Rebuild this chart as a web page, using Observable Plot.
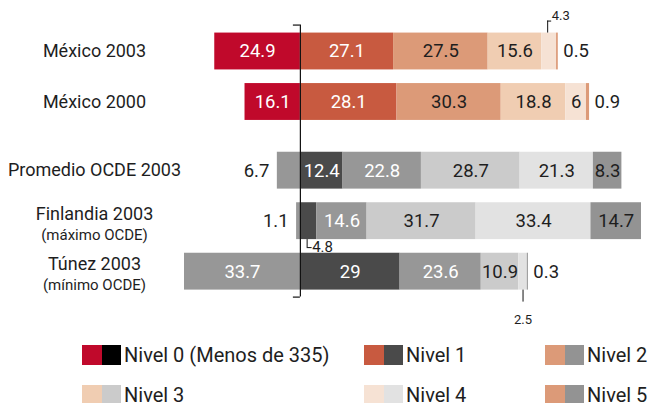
<!DOCTYPE html>
<html><head><meta charset="utf-8">
<script src="https://cdn.jsdelivr.net/npm/d3@7"></script>
<script src="https://cdn.jsdelivr.net/npm/@observablehq/plot@0.6"></script>
<style>
body{margin:0;background:#fff;font-family:Roboto,sans-serif;color:#1e1e1e;overflow:hidden;}
#chart{width:652px;height:330px;}
.legend{display:grid;grid-template-columns:282px 181px 107px;padding-left:82px;row-gap:20px;margin-top:15px;}
.item{display:flex;align-items:center;height:20px;font-size:20px;white-space:nowrap;}
.sw{width:19.5px;height:20px;flex:none;}
.t{margin-left:3px;}
</style></head><body>
<div id="chart"></div>
<div class="legend" id="legend"></div>
<script>
// ---- data ----
const paises = ["México 2003", "México 2000", "Promedio OCDE 2003", "Finlandia 2003", "Túnez 2003"];
const subtitulos = ["", "", "", "(máximo OCDE)", "(mínimo OCDE)"];
const grupos = ["México", "México", "OCDE", "OCDE", "OCDE"];
const niveles = ["Nivel 0 (Menos de 335)", "Nivel 1", "Nivel 2", "Nivel 3", "Nivel 4", "Nivel 5"];
const nivel0 = [24.9, 16.1, 6.7, 1.1, 33.7];
const nivel1 = [27.1, 28.1, 12.4, 4.8, 29];
const nivel2 = [27.5, 30.3, 22.8, 14.6, 23.6];
const nivel3 = [15.6, 18.8, 28.7, 31.7, 10.9];
const nivel4 = [4.3, 6, 21.3, 33.4, 2.5];
const nivel5 = [0.5, 0.9, 8.3, 14.7, 0.3];
// callouts for very thin segments
const llamadas = [
  {pais: "México 2003", nivel: 4, estilo: "arriba"},
  {pais: "Finlandia 2003", nivel: 1, estilo: "codo"},
  {pais: "Túnez 2003", nivel: 4, estilo: "abajo"}
];

// ---- styles ----
const coloresMexico = ["#c0092b", "#c85a40", "#dc9a78", "#f0cdb2", "#f6e2d4", "#dc9a78"];
const coloresOCDE = ["#979797", "#4a4a4a", "#979797", "#cbcbcb", "#e2e2e2", "#939393"];
const leyendaGris = ["#000000", "#4a4a4a", "#939393", "#cbcbcb", "#e2e2e2", "#939393"];
const textoMexico = ["#fff", "#fff", "#1e1e1e", "#1e1e1e", "#1e1e1e", "#1e1e1e"];
const textoOCDE = ["#fff", "#fff", "#fff", "#1e1e1e", "#1e1e1e", "#1e1e1e"];
const valores = [nivel0, nivel1, nivel2, nivel3, nivel4, nivel5];

const W = 652, H = 330, mL = 184, mR = 11;
const ordenGrupos = [...new Set(grupos)];
const filas = paises.map((p, i) => ({
  pais: p, sub: subtitulos[i], i,
  slot: i + ordenGrupos.indexOf(grupos[i]) * 0.36
}));
const h = 0.365;

const segs = [];
filas.forEach(f => {
  let acc = 0;
  const mex = grupos[f.i] === "México";
  valores.forEach((arr, l) => {
    const v = arr[f.i];
    let x1, x2;
    if (l === 0) { x1 = -v; x2 = 0; } else { x1 = acc; x2 = acc + v; acc += v; }
    segs.push({pais: f.pais, slot: f.slot, nivel: l, v, x1, x2, mid: (x1 + x2) / 2,
      color: (mex ? coloresMexico : coloresOCDE)[l],
      tcolor: (mex ? textoMexico : textoOCDE)[l]});
  });
});
const esLlamada = s => llamadas.some(c => c.pais === s.pais && c.nivel === s.nivel);
const fuera0 = segs.filter(s => s.nivel === 0 && s.v < 10);
const fuera5 = segs.filter(s => s.nivel === 5 && s.v < 5);
const dentro = segs.filter(s => !esLlamada(s) && !fuera0.includes(s) && !fuera5.includes(s));

const xmin = d3.min(segs, s => s.x1), xmax = d3.max(segs, s => s.x2);
const ux = (xmax - xmin) / (W - mL - mR); // data units per px
const yDom = [-1.01, 5.525];
const uy = (yDom[1] - yDom[0]) / H;

const ll = llamadas.map(c => {
  const s = segs.find(d => d.pais === c.pais && d.nivel === c.nivel);
  return {...c, s, x: s.mid - 1.5 * ux, top: s.slot - h, bot: s.slot + h};
});
const arriba = ll.filter(c => c.estilo === "arriba");
const codo = ll.filter(c => c.estilo === "codo");
const abajo = ll.filter(c => c.estilo === "abajo");

const yTop = filas[0].slot - h - 8 * uy;
const yBot = filas[filas.length - 1].slot + h + 7 * uy;

const fs = 18.5;
const chart = Plot.plot({
  width: W, height: H, marginLeft: mL, marginRight: mR, marginTop: 0, marginBottom: 0,
  x: {domain: [xmin, xmax], axis: null},
  y: {domain: yDom, reverse: true, axis: null},
  color: {type: "identity"},
  style: {fontFamily: "Roboto, sans-serif", background: "#fff", overflow: "visible"},
  marks: [
    Plot.rect(segs, {x1: "x1", x2: "x2", y1: d => d.slot - h, y2: d => d.slot + h, fill: "color"}),
    Plot.text(dentro, {x: "mid", y: "slot", text: d => String(d.v), fill: "tcolor", fontSize: fs}),
    Plot.text(fuera0, {x: "x1", y: "slot", text: d => String(d.v), dx: -8, textAnchor: "end", fill: "#1e1e1e", fontSize: fs}),
    Plot.text(fuera5, {x: "x2", y: "slot", text: d => String(d.v), dx: 5, textAnchor: "start", fill: "#1e1e1e", fontSize: fs}),
    // zero line
    Plot.ruleX([0], {y1: yTop, y2: yBot, stroke: "#111", strokeWidth: 1.2}),
    Plot.ruleY([yTop, yBot], {x1: -7 * ux, x2: 0, stroke: "#111", strokeWidth: 1.2}),
    // callouts: above
    Plot.ruleX(arriba, {x: "x", y1: "top", y2: d => d.top - 12 * uy, stroke: "#111", strokeWidth: 1}),
    Plot.ruleY(arriba, {y: d => d.top - 12 * uy, x1: "x", x2: d => d.x + 4 * ux, stroke: "#111", strokeWidth: 1}),
    Plot.text(arriba, {x: "x", y: d => d.top - 12 * uy, dx: 4, dy: -5, text: d => String(d.s.v), textAnchor: "start", fontSize: 13, fill: "#1e1e1e"}),
    // callouts: elbow below
    Plot.ruleX(codo, {x: "x", y1: "bot", y2: d => d.bot + 8 * uy, stroke: "#111", strokeWidth: 1}),
    Plot.ruleY(codo, {y: d => d.bot + 8 * uy, x1: "x", x2: d => d.x + 5 * ux, stroke: "#111", strokeWidth: 1}),
    Plot.text(codo, {x: "x", y: d => d.bot + 8 * uy, dx: 5, dy: 0, text: d => String(d.s.v), textAnchor: "start", fontSize: 15, fill: "#1e1e1e"}),
    // callouts: tick below
    Plot.ruleX(abajo, {x: d => d.s.mid, y1: "bot", y2: d => d.bot + 12 * uy, stroke: "#111", strokeWidth: 1}),
    Plot.text(abajo, {x: d => d.s.mid, y: d => d.bot + 30 * uy, text: d => String(d.s.v), fontSize: 13, fill: "#1e1e1e"}),
    // row labels
    Plot.text(filas.filter(f => !f.sub), {y: "slot", text: "pais", frameAnchor: "left", textAnchor: "middle", dx: 94 - mL, fontSize: 18, fill: "#1e1e1e"}),
    Plot.text(filas.filter(f => f.sub), {y: "slot", text: "pais", frameAnchor: "left", textAnchor: "middle", dx: 94 - mL, dy: -7, fontSize: 18, fill: "#1e1e1e"}),
    Plot.text(filas.filter(f => f.sub), {y: "slot", text: "sub", frameAnchor: "left", textAnchor: "middle", dx: 94 - mL, dy: 14, fontSize: 15, fill: "#1e1e1e"})
  ]
});
document.getElementById("chart").appendChild(chart);

const leg = document.getElementById("legend");
niveles.forEach((n, l) => {
  const it = document.createElement("div");
  it.className = "item";
  it.innerHTML = `<div class="sw" style="background:${coloresMexico[l]}"></div><div class="sw" style="background:${leyendaGris[l]}"></div><span class="t">${n}</span>`;
  leg.appendChild(it);
});
</script>
</body></html>
